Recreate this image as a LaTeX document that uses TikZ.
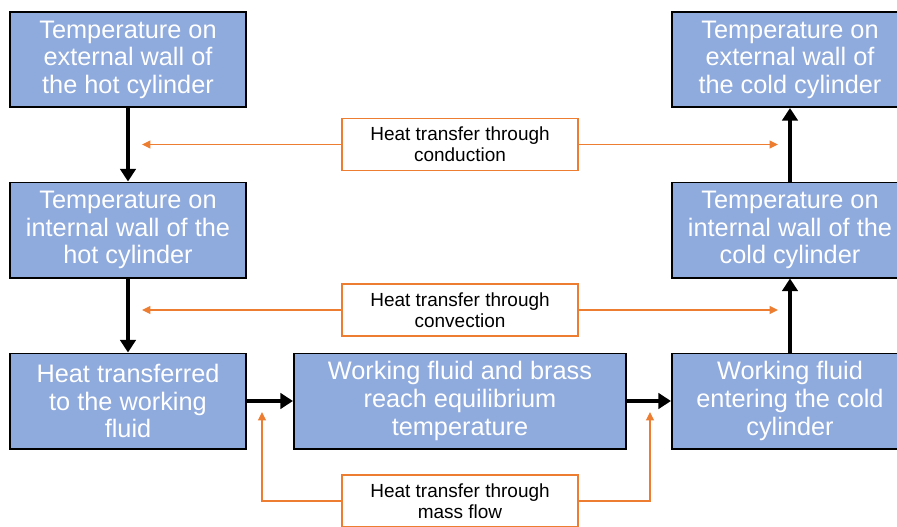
\documentclass[tikz,border=0pt]{standalone}
\usepackage{fontspec}
\setmainfont{Liberation Sans}
\usetikzlibrary{arrows.meta,positioning}
\definecolor{boxblue}{RGB}{143,170,220}
\definecolor{heatorange}{RGB}{237,125,49}
\tikzset{
    stage/.style={
    rectangle,draw=black,line width=1.4pt,fill=boxblue,text=white,
    minimum width=5.9cm,minimum height=2.375cm,align=center,
    font=\fontsize{18}{19.6}\selectfont,
    execute at begin node={\rule{0pt}{17.5pt}}
    },
    widestage/.style={
    stage,minimum width=8.3cm
    },
    transfer/.style={
    rectangle,draw=heatorange,line width=1.4pt,fill=white,text=black,
    minimum width=5.9cm,minimum height=1.3cm,align=center,
    font=\fontsize{13.5}{15}\selectfont,
    execute at begin node={\rule{0pt}{12.5pt}}
    },
    flow/.style={
    line width=2.6pt,-{Triangle[length=9pt,width=11pt]}
    },
    heat/.style={
    draw=heatorange,line width=1.4pt,-{Triangle[length=6pt,width=5.5pt]}
    },
}
\begin{document}
\begin{tikzpicture}[x=0.025cm,y=-0.025cm]
   \useasboundingbox (0,0) rectangle (897,527);
   % hot side
   \node[stage] (hotext) at (128,59.5) {Temperature on\\external wall of\\the hot cylinder};
   \node[stage] (hotint) at (128,230) {Temperature on\\internal wall of the\\hot cylinder};
   \node[stage] (fluidin) at (128,401) {Heat transferred\\to the working\\fluid};
   % middle
   \node[widestage] (equil) at (460,401) {Working fluid and brass\\reach equilibrium\\temperature};
   % cold side
   \node[stage] (fluidout) at (790,401) {Working fluid\\entering the cold\\cylinder};
   \node[stage] (coldint) at (790,230) {Temperature on\\internal wall of the\\cold cylinder};
   \node[stage] (coldext) at (790,59.5) {Temperature on\\external wall of\\the cold cylinder};
   % heat transfer labels
   \node[transfer] (cond) at (460,144.5) {Heat transfer through\\conduction};
   \node[transfer] (conv) at (460,310) {Heat transfer through\\convection};
   \node[transfer] (mass) at (460,501) {Heat transfer through\\mass flow};
   \coordinate (condL) at (142,144.5);
   \coordinate (condR) at (778,144.5);
   \coordinate (convL) at (142,310);
   \coordinate (convR) at (778,310);
   \coordinate (massL) at (262,412);
   \coordinate (massR) at (650,412);

  \path[flow]
    (hotext) edge (hotint)
    (hotint) edge (fluidin)
    (fluidin) edge (equil)
    (equil) edge (fluidout)
    (fluidout) edge (coldint)
    (coldint) edge (coldext);
  \draw[heat] (cond) -- (condL);
  \draw[heat] (cond) -- (condR);
  \draw[heat] (conv) -- (convL);
  \draw[heat] (conv) -- (convR);
  \draw[heat] (mass.west) -| (massL);
  \draw[heat] (mass.east) -| (massR);
  \end{tikzpicture}
\end{document}
